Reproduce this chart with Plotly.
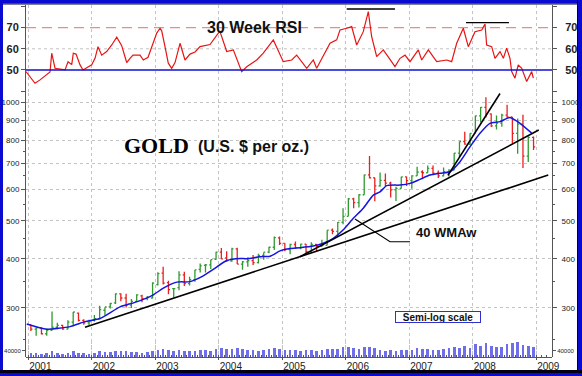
import math
import plotly.graph_objects as go

# ---------------- data ----------------
first_year = 2001
open_ = [272, 265, 267, 258, 263, 268, 271, 265, 276, 291, 279, 275,
         279, 282, 296, 302, 309, 326, 318, 305, 312, 322, 317, 318,
         344, 368, 348, 336, 338, 364, 346, 354, 376, 385, 386, 399,
         416, 402, 395, 424, 388, 393, 396, 391, 408, 416, 428, 452,
         438, 422, 435, 427, 436, 417, 435, 430, 433, 473, 470, 495,
         513, 568, 556, 582, 654, 643, 613, 633, 623, 599, 604, 646,
         632, 650, 665, 662, 679, 660, 650, 666, 672, 743, 795, 783,
         834, 923, 971, 934, 871, 885, 928, 918, 834, 880, 730, 814]
high = [272, 268, 268, 266, 294, 275, 272, 279, 293, 292, 281, 280,
        288, 304, 301, 309, 327, 327, 326, 316, 325, 324, 322, 349,
        370, 382, 352, 336, 372, 371, 360, 375, 389, 388, 398, 417,
        426, 418, 427, 427, 395, 404, 409, 412, 415, 429, 456, 456,
        438, 437, 443, 437, 436, 441, 436, 447, 473, 478, 496, 538,
        571, 572, 584, 654, 730, 643, 663, 659, 628, 610, 647, 648,
        652, 686, 672, 691, 691, 671, 683, 676, 743, 795, 841, 834,
        924, 973, 1030, 936, 925, 935, 986, 918, 910, 930, 820, 818]
low = [262, 255, 257, 255, 263, 265, 264, 265, 271, 277, 272, 271,
       277, 281, 288, 299, 307, 312, 301, 300, 311, 310, 314, 317,
       342, 344, 325, 319, 333, 341, 342, 350, 369, 369, 377, 398,
       399, 393, 393, 388, 375, 382, 386, 389, 398, 413, 421, 434,
       418, 411, 424, 423, 414, 414, 418, 429, 433, 462, 456, 490,
       513, 538, 540, 582, 640, 560, 610, 612, 573, 561, 604, 613,
       603, 650, 637, 662, 653, 642, 648, 648, 672, 725, 780, 779,
       834, 890, 915, 865, 853, 866, 911, 786, 740, 681, 705, 756]
close = [265, 267, 258, 263, 268, 271, 265, 276, 293, 279, 275, 277,
         282, 297, 302, 308, 326, 318, 305, 312, 324, 317, 319, 347,
         367, 347, 334, 336, 364, 346, 354, 375, 384, 386, 398, 416,
         400, 396, 424, 388, 393, 396, 391, 408, 416, 428, 453, 438,
         422, 435, 427, 436, 417, 435, 430, 433, 473, 470, 495, 513,
         568, 556, 582, 654, 643, 613, 633, 623, 599, 604, 646, 632,
         650, 665, 662, 679, 660, 650, 666, 672, 743, 795, 783, 834,
         923, 971, 934, 871, 885, 928, 918, 834, 880, 730, 814, 770]
volume = [22000, 24000, 20000, 25000, 40000, 25000, 20000, 22000, 35000, 28000, 22000, 20000,
          28000, 35000, 30000, 32000, 40000, 38000, 35000, 32000, 30000, 28000, 30000, 38000,
          45000, 50000, 42000, 35000, 45000, 40000, 38000, 40000, 45000, 42000, 40000, 48000,
          55000, 50000, 52000, 55000, 50000, 45000, 42000, 40000, 45000, 50000, 55000, 48000,
          45000, 42000, 45000, 40000, 42000, 45000, 40000, 45000, 50000, 48000, 52000, 60000,
          62000, 55000, 50000, 60000, 65000, 55000, 45000, 40000, 42000, 40000, 45000, 42000,
          45000, 55000, 50000, 48000, 45000, 42000, 50000, 55000, 60000, 58000, 70000, 55000,
          80000, 70000, 85000, 70000, 60000, 65000, 80000, 90000, 95000, 75000, 70000, 60000]

wma_t = [2000.976, 2001.291, 2001.658, 2001.894, 2002.131, 2002.446, 2002.682, 2002.970,
         2003.128, 2003.339, 2003.548, 2003.757, 2003.915, 2004.126, 2004.335, 2004.441,
         2004.650, 2004.808, 2004.965, 2005.123, 2005.280, 2005.490, 2005.647, 2005.805,
         2005.962, 2006.120, 2006.277, 2006.435, 2006.540, 2006.646, 2006.855, 2007.013,
         2007.170, 2007.328, 2007.485, 2007.643, 2007.800, 2007.957, 2008.115, 2008.272,
         2008.430, 2008.587, 2008.745, 2008.929]
wma_v = [273, 265, 269, 277, 282, 302, 310, 324, 337, 349, 350, 362, 376, 396, 401, 400,
         405, 406, 419, 425, 427, 431, 438, 451, 474, 507, 538, 581, 592, 614, 616, 622,
         637, 653, 660, 666, 706, 770, 834, 884, 893, 915, 884, 835]

rsi_t = [2000.965, 2001.107, 2001.186, 2001.343, 2001.370, 2001.422, 2001.580, 2001.627,
         2001.685, 2001.710, 2001.753, 2001.816, 2001.863, 2001.942, 2002.000, 2002.052,
         2002.099, 2002.157, 2002.236, 2002.315, 2002.394, 2002.472, 2002.551, 2002.603,
         2002.650, 2002.761, 2002.813, 2002.887, 2002.970, 2003.024, 2003.076, 2003.102,
         2003.154, 2003.206, 2003.260, 2003.312, 2003.391, 2003.469, 2003.548, 2003.627,
         2003.706, 2003.863, 2003.994, 2004.020, 2004.126, 2004.230, 2004.362, 2004.441,
         2004.598, 2004.702, 2004.860, 2005.017, 2005.150, 2005.228, 2005.386, 2005.490,
         2005.543, 2005.647, 2005.753, 2005.858, 2005.910, 2006.016, 2006.094, 2006.173,
         2006.277, 2006.356, 2006.409, 2006.488, 2006.592, 2006.698, 2006.776, 2006.855,
         2006.934, 2007.013, 2007.143, 2007.197, 2007.301, 2007.433, 2007.591, 2007.669,
         2007.748, 2007.852, 2007.931, 2008.036, 2008.142, 2008.194, 2008.220, 2008.299,
         2008.351, 2008.430, 2008.483, 2008.535, 2008.587, 2008.614, 2008.666, 2008.717,
         2008.772, 2008.850, 2008.929, 2008.955]
rsi_v = [49.2, 43.7, 45.3, 49.0, 57.9, 50.8, 50.0, 53.9, 52.5, 57.9, 57.5, 52.4, 50.0, 51.6,
         52.4, 55.5, 61.0, 57.0, 58.7, 61.8, 65.5, 61.5, 53.5, 55.5, 57.0, 57.0, 54.7, 56.0,
         62.6, 67.4, 69.7, 68.5, 61.0, 53.2, 50.8, 53.5, 62.6, 54.7, 57.5, 58.5, 61.0, 62.0,
         67.4, 68.1, 58.7, 59.5, 49.2, 51.5, 54.7, 57.9, 64.2, 53.9, 54.7, 57.0, 50.8, 54.7,
         50.8, 57.0, 62.6, 64.2, 68.9, 69.7, 70.5, 61.8, 68.1, 77.6, 65.7, 56.3, 59.5, 55.0,
         51.6, 55.5, 57.0, 53.9, 59.5, 54.7, 59.5, 53.9, 54.7, 53.9, 62.6, 69.7, 61.0, 68.1,
         68.9, 71.7, 61.8, 61.0, 55.5, 58.7, 55.5, 60.3, 55.5, 49.2, 46.1, 52.4, 50.8, 44.5,
         49.2, 46.1]

# trend lines: (start year, start price, end year, end price)
trend_lower = [2001.894, 268, 2009.190, 653]
trend_middle = [2005.280, 405, 2009.040, 850]
trend_upper = [2007.610, 652, 2008.430, 1053]
pointer_t = [2006.146, 2006.698, 2007.013]
pointer_p = [505, 442, 442]
# RSI peak marker lines: (start year, end year, level)
rsi_peak1 = [2006.016, 2006.776, 78.8]
rsi_peak2 = [2007.894, 2008.571, 72.4]

year_ticks = list(range(2001, 2010))
price_ticks = [300, 400, 500, 600, 700, 800, 900, 1000]
price_minor = [250, 350, 450, 550, 650, 750, 850, 950]
rsi_ticks = [40, 50, 60, 70, 80]
rsi_labels = ["", "50", "60", "70", ""]

# ---------------- layout helpers ----------------
W, H = 582, 376
L, R, T, B = 26, 552, 5, 357


def px(x):
    return (x - L) / (R - L)


def py(y):
    return (B - y) / (B - T)


month_x = [first_year + (i + 0.5) / 12 for i in range(len(close))]

FONT = "Liberation Sans"
AX = "#555555"
GRID = "#c4c4c4"
BLUE = "#0a0ad0"

fig = go.Figure()

fig.add_trace(go.Scatter(x=rsi_t, y=rsi_v, xaxis="x", yaxis="y", mode="lines",
                         line=dict(color="#e81414", width=1.2), hoverinfo="skip"))
fig.add_trace(go.Scatter(x=[rsi_t[0]], y=[rsi_v[0]], xaxis="x", yaxis="y2", mode="markers",
                         marker=dict(opacity=0), hoverinfo="skip"))

fig.add_trace(go.Bar(x=month_x, y=volume, xaxis="x", yaxis="y5", width=1 / 12 * 0.5,
                     marker=dict(color="#6e6ee8", line=dict(width=0)), hoverinfo="skip"))
fig.add_trace(go.Scatter(x=[month_x[0]], y=[volume[0]], xaxis="x", yaxis="y6", mode="markers",
                         marker=dict(opacity=0), hoverinfo="skip"))

fig.add_trace(go.Ohlc(x=month_x, open=open_, high=high, low=low, close=close,
                      xaxis="x", yaxis="y3", tickwidth=0.3,
                      increasing=dict(line=dict(color="#2f9a2f", width=1.3)),
                      decreasing=dict(line=dict(color="#e82020", width=1.3)),
                      hoverinfo="skip"))
fig.add_trace(go.Scatter(x=[month_x[0]], y=[close[0]], xaxis="x", yaxis="y4", mode="markers",
                         marker=dict(opacity=0), hoverinfo="skip"))

fig.add_trace(go.Scatter(x=wma_t, y=wma_v, xaxis="x", yaxis="y3", mode="lines",
                         line=dict(color="#1414e0", width=1.5, shape="spline", smoothing=0.6),
                         hoverinfo="skip"))

for tl in (trend_lower, trend_middle, trend_upper):
    fig.add_trace(go.Scatter(x=[tl[0], tl[2]], y=[tl[1], tl[3]], xaxis="x", yaxis="y3",
                             mode="lines", line=dict(color="#000000", width=1.6),
                             hoverinfo="skip", cliponaxis=False))
fig.add_trace(go.Scatter(x=pointer_t, y=pointer_p, xaxis="x", yaxis="y3", mode="lines",
                         line=dict(color="#000000", width=1.1), hoverinfo="skip"))

shapes = []
# RSI reference lines
shapes.append(dict(type="line", xref="paper", yref="y", x0=0, x1=1, y0=60, y1=60,
                   line=dict(color=GRID, width=1, dash="dot"), layer="below"))
shapes.append(dict(type="line", xref="paper", yref="y", x0=0, x1=1, y0=70, y1=70,
                   line=dict(color="#f08a8a", width=1.3, dash="10px,6px"), layer="below"))
shapes.append(dict(type="line", xref="paper", yref="y", x0=0, x1=1, y0=50, y1=50,
                   line=dict(color="#1010d0", width=1.5), layer="above"))
for pk in (rsi_peak1, rsi_peak2):
    shapes.append(dict(type="line", xref="x", yref="y", x0=pk[0], x1=pk[1], y0=pk[2], y1=pk[2],
                       line=dict(color="#000000", width=1.3)))


# outer frame
def rect(x0, y0, x1, y1, color):
    return dict(type="rect", xref="paper", yref="paper", x0=px(x0), x1=px(x1),
                y0=py(y1), y1=py(y0), fillcolor=color, line=dict(width=0), layer="above")


shapes += [
    rect(0, 0, W, 3.5, BLUE),
    rect(0, 3.5, W, 4.5, "#000030"),
    rect(0, 0, 3, H, BLUE),
    rect(578, 0, W, H, BLUE),
    rect(577, 0, 578, H, "#000030"),
    rect(0, 370, W, 373, "#000010"),
    rect(0, 373, W, H, BLUE),
]

annotations = [
    dict(text="<b>30 Week RSI</b>", x=px(254.5), y=py(16.5), xref="paper", yref="paper",
         showarrow=False, font=dict(family=FONT, size=16, color="#111")),
    dict(text="<b>GOLD</b>", x=px(121.5), y=py(146), xref="paper", yref="paper",
         showarrow=False, font=dict(family="Liberation Serif", size=22, color="#000")),
    dict(text="<b>(U.S. $ per oz.)</b>", x=px(253), y=py(146.5), xref="paper", yref="paper",
         showarrow=False, font=dict(family=FONT, size=16, color="#111")),
    dict(text="<b>40 WMAw</b>", x=px(414), y=py(242), xref="paper", yref="paper",
         xanchor="left", showarrow=False, font=dict(family=FONT, size=13, color="#111")),
    dict(text="<b>Semi-log scale</b>", x=px(481), y=py(323.3), xref="paper", yref="paper",
         showarrow=False, font=dict(family=FONT, size=10, color="#111"),
         bordercolor="#3030d0", borderwidth=1, bgcolor="#ffffff", width=84, height=10,
         borderpad=0),
]

common_y = dict(showline=True, linecolor=AX, linewidth=1, ticks="outside", ticklen=4,
                tickcolor=AX, zeroline=False, fixedrange=True, automargin=False)

fig.update_layout(
    width=W, height=H,
    margin=dict(l=L, r=W - R, t=T, b=H - B, pad=0, autoexpand=False),
    paper_bgcolor="#ffffff", plot_bgcolor="rgba(0,0,0,0)",
    showlegend=False, hovermode=False, bargap=0,
    font=dict(family=FONT, color="#222"),
    xaxis=dict(range=[2000.965, 2009.249], anchor="y5", tickmode="array",
               tickvals=year_ticks, ticktext=[str(y) for y in year_ticks],
               ticklabelposition="outside right", ticks="outside", ticklen=2,
               tickcolor=AX, showline=True, linecolor=AX, showgrid=True,
               gridcolor=GRID, griddash="dot", gridwidth=1, zeroline=False,
               tickfont=dict(size=10, color="#222"), automargin=False, fixedrange=True,
               minor=dict(dtick=1 / 12, tick0=2001, ticks="inside", ticklen=2,
                          tickcolor=AX, showgrid=False),
               rangeslider=dict(visible=False)),
    yaxis=dict(domain=[py(93), 1], range=[39.1, 80.7], tickmode="array",
               tickvals=rsi_ticks, ticktext=rsi_labels, showgrid=False,
               tickfont=dict(size=11, color="#222", weight="bold"),
               anchor="x", side="left", **common_y),
    yaxis2=dict(overlaying="y", matches="y", side="right", anchor="x", tickmode="array",
                tickvals=rsi_ticks, ticktext=rsi_labels, showgrid=False,
                ticklabelstandoff=6,
                tickfont=dict(size=11, color="#222", weight="bold"), **common_y),
    yaxis3=dict(domain=[0, py(93)], type="log", range=[2.3525, 3.0236], tickmode="array",
                tickvals=price_ticks, ticktext=[str(v) for v in price_ticks],
                showgrid=True, gridcolor=GRID, griddash="dot",
                tickfont=dict(size=8, color="#222"), anchor="x", side="left",
                minor=dict(tickvals=price_minor, ticks="outside", ticklen=2,
                           tickcolor=AX, showgrid=False),
                **common_y),
    yaxis4=dict(overlaying="y3", matches="y3", type="log", side="right", anchor="x",
                tickmode="array", tickvals=price_ticks,
                ticktext=[str(v) for v in price_ticks], showgrid=False,
                ticklabelstandoff=3, tickfont=dict(size=8, color="#222"),
                minor=dict(tickvals=price_minor, ticks="outside", ticklen=2,
                           tickcolor=AX, showgrid=False),
                **common_y),
    yaxis5=dict(domain=[0, py(341)], range=[0, 100000], tickmode="array",
                tickvals=[40000], ticktext=["40000"], showgrid=False, showline=False,
                ticks="outside", ticklen=3, tickcolor=AX, zeroline=False, automargin=False,
                fixedrange=True,
                tickfont=dict(size=6, color="#222"), anchor="x", side="left"),
    yaxis6=dict(overlaying="y5", matches="y5", side="right", anchor="x", tickmode="array",
                tickvals=[40000], ticktext=["40000"], showgrid=False, showline=False,
                ticks="outside", ticklen=3, tickcolor=AX, zeroline=False, automargin=False,
                fixedrange=True,
                tickfont=dict(size=6, color="#222")),
    shapes=shapes,
    annotations=annotations,
)

fig.write_html("out.html", config={"displayModeBar": False, "staticPlot": True},
               post_script="document.body.style.margin='0';")
